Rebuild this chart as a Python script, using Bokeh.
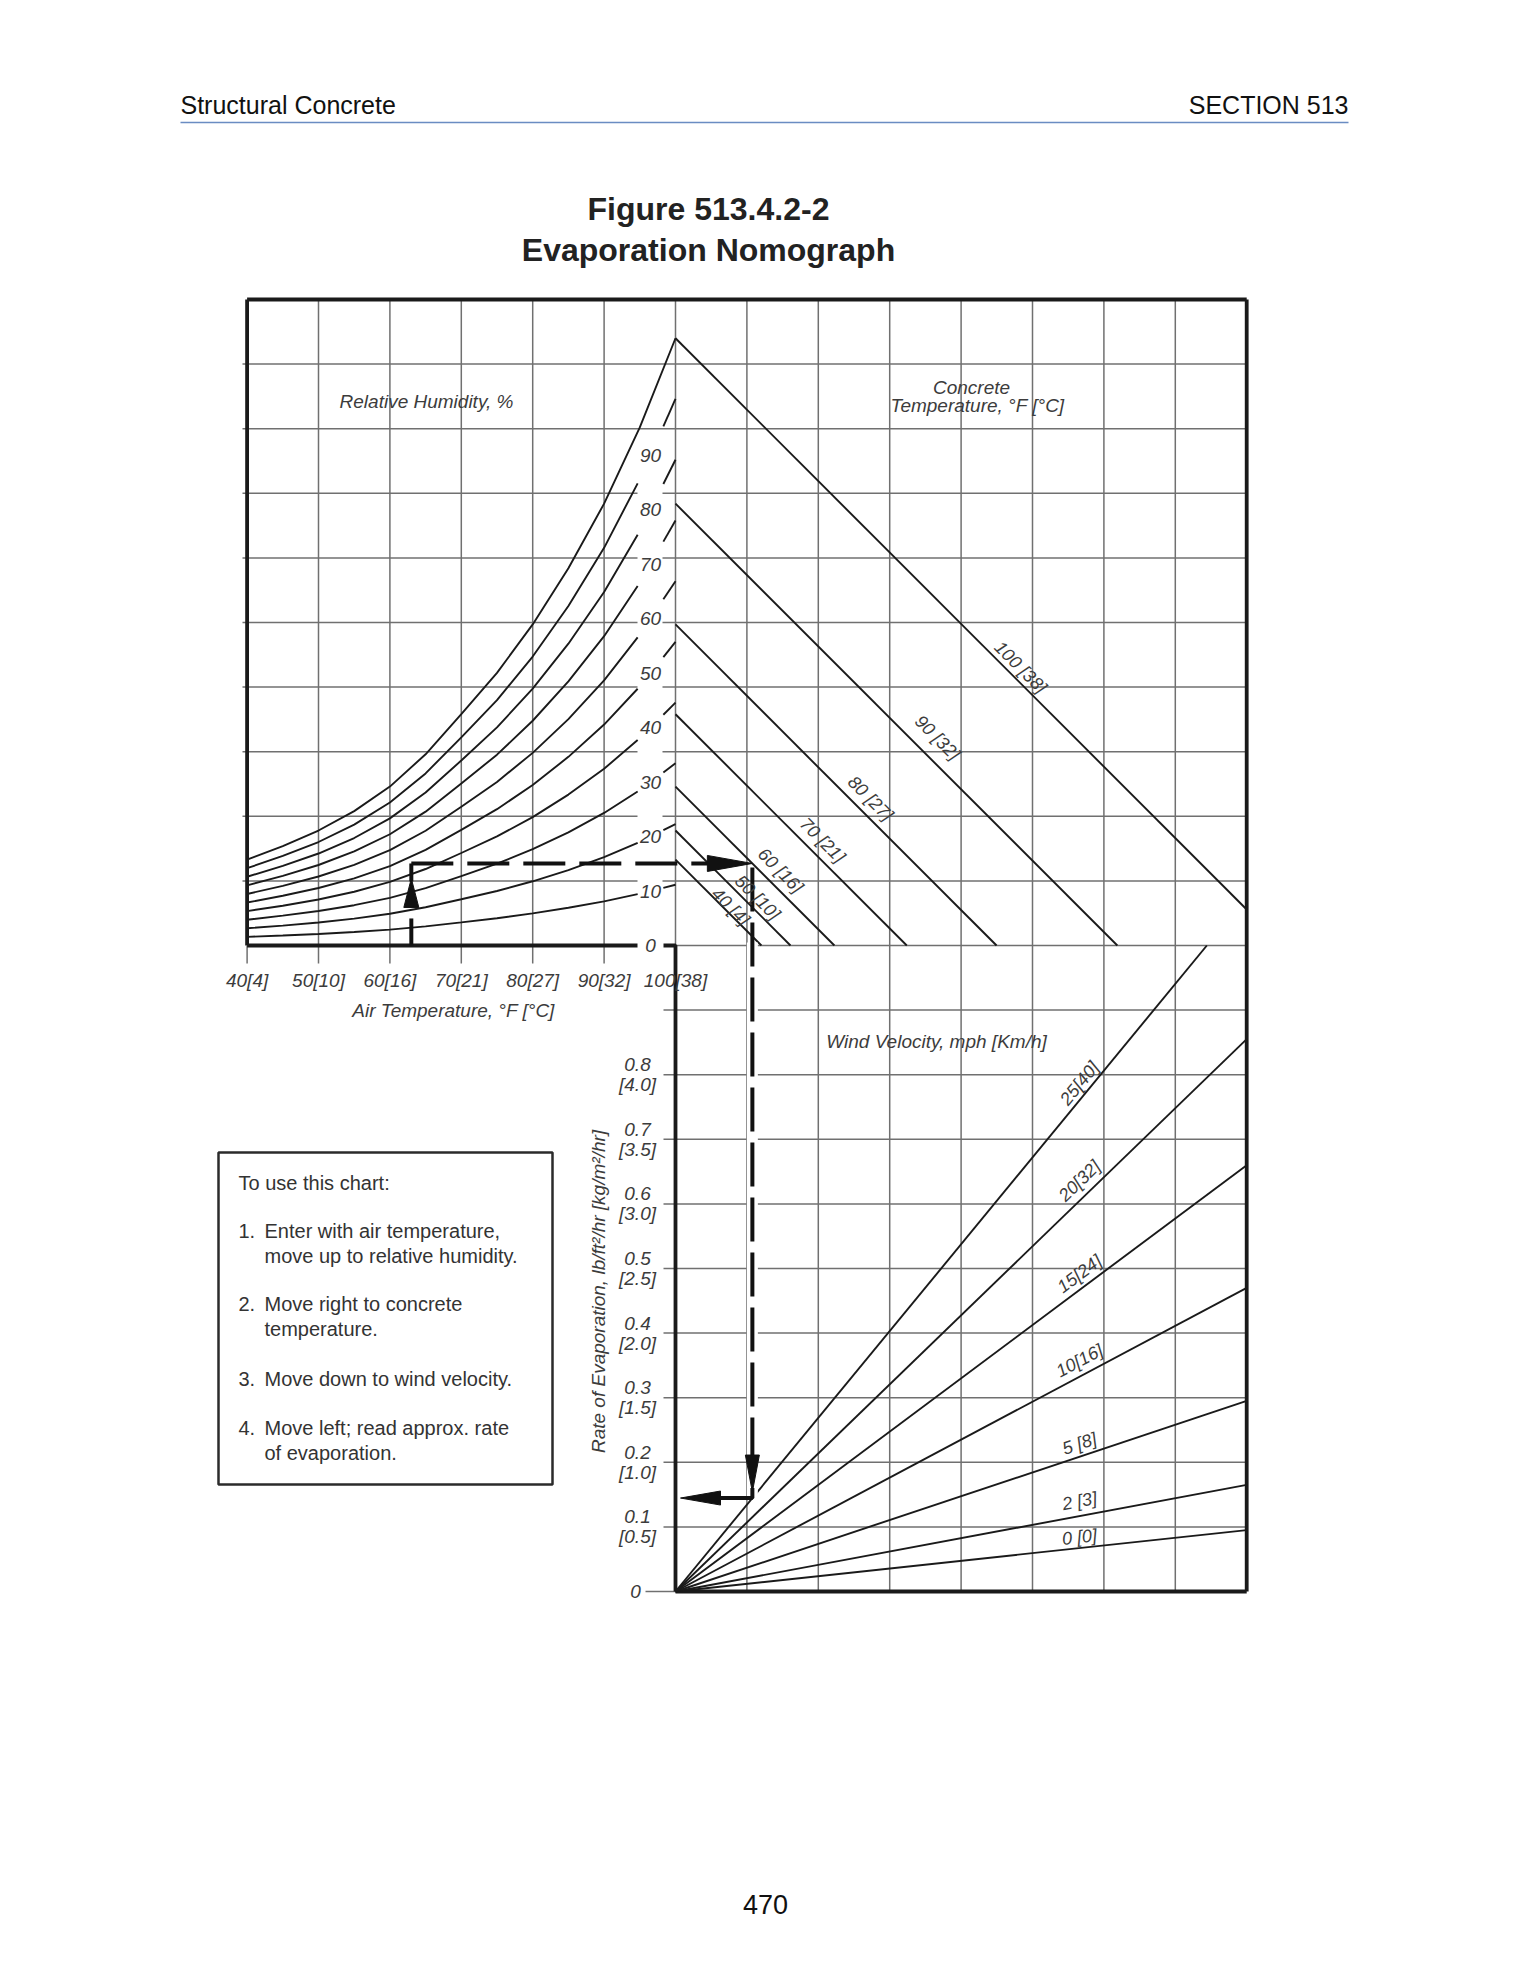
import math
import numpy as np
from bokeh.plotting import figure
from bokeh.models import Range1d
from bokeh.core.properties import value
from bokeh.embed import file_html
from bokeh.resources import INLINE

# ------------------------------------------------------------------ data
air_temp_f = [40, 45, 50, 55, 60, 65, 70, 75, 80, 85, 90, 95, 100]
# height of the saturation (100 % RH) curve, in grid rows above the 0 line
saturation_rows = [1.33, 1.54, 1.78, 2.08, 2.46, 2.96, 3.58, 4.22, 4.97, 5.84, 6.84, 8.02, 9.40]
rh_percent = [10, 20, 30, 40, 50, 60, 70, 80, 90, 100]
rh_tick_values = [0, 10, 20, 30, 40, 50, 60, 70, 80, 90]
rh_tick_labels = ["0", "10", "20", "30", "40", "50", "60", "70", "80", "90"]
air_tick_f = [40, 50, 60, 70, 80, 90, 100]
air_tick_labels = ["40[4]", "50[10]", "60[16]", "70[21]", "80[27]", "90[32]", "100[38]"]
concrete_temp_f = [40, 50, 60, 70, 80, 90, 100]
concrete_labels = ["40 [4]", "50 [10]", "60 [16]", "70 [21]", "80 [27]", "90 [32]", "100 [38]"]
wind_mph = [0, 2, 5, 10, 15, 20, 25]
wind_labels = ["0 [0]", "2 [3]", "5 [8]", "10[16]", "15[24]", "20[32]", "25[40]"]
# rate of evaporation (lb/ft2/hr) that each wind line reaches at the right frame
wind_rate_at_right_edge = [0.095, 0.165, 0.295, 0.47, 0.66, 0.855, 1.075]
rate_ticks = [0.1, 0.2, 0.3, 0.4, 0.5, 0.6, 0.7, 0.8]
rate_labels_lb = ["0.1", "0.2", "0.3", "0.4", "0.5", "0.6", "0.7", "0.8"]
rate_labels_kg = ["[0.5]", "[1.0]", "[1.5]", "[2.0]", "[2.5]", "[3.0]", "[3.5]", "[4.0]"]
example_air_temp_f = 63
example_vapor_rows = 1.27
example_concrete_f = 60
example_wind_mph = 25
instruction_lines = [
    ("", "To use this chart:"),
    ("1.", "Enter with air temperature,"),
    ("", "move up to relative humidity."),
    ("2.", "Move right to concrete"),
    ("", "temperature."),
    ("3.", "Move down to wind velocity."),
    ("4.", "Move left; read approx. rate"),
    ("", "of evaporation."),
]

# ------------------------------------------------------------------ layout
W, H = 1528, 1976
PAGE_X0, PAGE_Y0 = 0, 0
OX, OY = 675.0, 945.0          # page px of the (100 F / 0) corner
PXC, PXR = 71.4, 64.6          # px per grid column / grid row
K = PXR / PXC                  # vapour rows -> columns at equal pixel scale


def X(px):
    return (px - OX) / PXC


def Y(py):
    return (OY - py) / PXR


def dx(px):
    return px / PXC


def dy(px):
    return px / PXR


def col(t):
    return (t - 100.0) / 10.0


def clip(xs, ys, a, b):
    xs = np.asarray(xs, float)
    ys = np.asarray(ys, float)
    inner = (xs > a) & (xs < b)
    px = [a] + list(xs[inner]) + [b]
    py = [float(np.interp(a, xs, ys))] + list(ys[inner]) + [float(np.interp(b, xs, ys))]
    return px, py


FONT = value("Liberation Sans")
GRID = "#707070"
INK = "#1a1a1a"
LAB = "#3c3c3c"

p = figure(width=W, height=H,
           x_range=Range1d(X(PAGE_X0), X(PAGE_X0 + W)),
           y_range=Range1d(Y(PAGE_Y0 + H), Y(PAGE_Y0)),
           output_backend="svg", toolbar_location=None,
           x_axis_type=None, y_axis_type=None, min_border=0)
p.outline_line_color = None
p.background_fill_color = "white"
p.border_fill_color = "white"

# ------------------------------------------------------------------ grid
gx, gy = [], []
for c in range(-5, 1):
    gx.append([c, c]); gy.append([Y(963), 10])
gx.append([-6, -6]); gy.append([Y(963), 0])
for c in range(1, 8):
    gx.append([c, c]); gy.append([-10, 10])
band_l, band_r = X(637), X(662)
for r in range(1, 10):
    if r <= 7:
        gx += [[X(242), band_l], [band_r, 8]]
        gy += [[r, r], [r, r]]
    else:
        gx.append([X(242), 8]); gy.append([r, r])
gx.append([0, 8]); gy.append([0, 0])
for r in range(-9, 0):
    gx.append([X(663), 8]); gy.append([r, r])
gx.append([X(645), 0]); gy.append([-10, -10])
p.multi_line(gx, gy, line_color=GRID, line_width=1.5)

# ------------------------------------------------------------------ heavy frame
fx = [[-6, 8], [-6, -6], [8, 8], [0, 8], [X(663), 0, 0], [-6, band_l]]
fy = [[10, 10], [0, 10], [-10, 10], [-10, -10], [0, 0, -10], [0, 0]]
p.multi_line(fx, fy, line_color=INK, line_width=3.8)

# ------------------------------------------------------------------ relative humidity curves
cols = [col(t) for t in air_temp_f]
t_gap_a, t_gap_b = col(94.7), col(98.3)
cx, cy = [], []
for rh in rh_percent:
    ys = [rh / 100.0 * s for s in saturation_rows]
    if rh == 100:
        cx.append(cols); cy.append(ys)
    else:
        a, b = clip(cols, ys, cols[0], t_gap_a)
        cx.append(a); cy.append(b)
        a, b = clip(cols, ys, t_gap_b, 0.0)
        cx.append(a); cy.append(b)
p.multi_line(cx, cy, line_color=INK, line_width=1.9)

rh_lab_y = [float(np.interp(col(96.5), cols, [v / 100.0 * s for s in saturation_rows]))
            for v in rh_tick_values]
p.text(x=[X(650)] * len(rh_tick_values), y=rh_lab_y, text=rh_tick_labels,
       text_font=FONT, text_font_size="19px", text_font_style="italic",
       text_color=LAB, text_align="center", text_baseline="middle")

# ------------------------------------------------------------------ concrete temperature lines
lx, ly = [], []
conc_lab_px = [730, 757, 780, 822, 870, 937, 1020]
conc_lab_off = [8, 15, 21, 21, 21, 28, 16]
clx, cly = [], []
for t, apx, off in zip(concrete_temp_f, conc_lab_px, conc_lab_off):
    s = saturation_rows[air_temp_f.index(t)]
    xe = s * K
    if xe > 8:
        lx.append([0, 8]); ly.append([s, s - 8 / K])
    else:
        lx.append([0, xe]); ly.append([s, 0])
    xa = X(apx)
    clx.append(xa); cly.append(s - xa / K + dy(off))
p.multi_line(lx, ly, line_color=INK, line_width=1.9)

# ------------------------------------------------------------------ wind velocity lines
wx, wy = [], []
wlx, wly, wla = [], [], []
wind_lab_off = [11, 15, 13, 16, 16, 20, 17]
xl = X(1079)
for r, off in zip(wind_rate_at_right_edge, wind_lab_off):
    if r > 1.0:
        wx.append([0, 8 / r]); wy.append([-10, 0])
    else:
        wx.append([0, 8]); wy.append([-10, -10 + 10 * r])
    wlx.append(xl)
    wly.append(-10 + 10 * r * xl / 8 + dy(off))
    wla.append(math.atan(10 * r * PXR / (8 * PXC)))
p.multi_line(wx, wy, line_color=INK, line_width=1.9)
p.text(x=wlx, y=wly, text=wind_labels, angle=wla,
       text_font=FONT, text_font_size="18px", text_font_style="italic",
       text_color=LAB, text_align="center", text_baseline="middle")

# ------------------------------------------------------------------ axis labels
p.text(x=[col(t) for t in air_tick_f], y=[Y(980)] * len(air_tick_f), text=air_tick_labels,
       text_font=FONT, text_font_size="19px", text_font_style="italic",
       text_color=LAB, text_align="center", text_baseline="middle")
rt_y = [-10 + 10 * v for v in rate_ticks]
p.text(x=[X(637)] * len(rate_ticks), y=[v + dy(10) for v in rt_y], text=rate_labels_lb,
       text_font=FONT, text_font_size="19px", text_font_style="italic",
       text_color=LAB, text_align="center", text_baseline="middle")
p.text(x=[X(637)] * len(rate_ticks), y=[v - dy(10) for v in rt_y], text=rate_labels_kg,
       text_font=FONT, text_font_size="19px", text_font_style="italic",
       text_color=LAB, text_align="center", text_baseline="middle")
p.text(x=[X(635)], y=[-10], text=["0"],
       text_font=FONT, text_font_size="19px", text_font_style="italic",
       text_color=LAB, text_align="center", text_baseline="middle")

titles = [
    ("Relative Humidity, %", 426, 401, 0.0),
    ("Concrete", 971, 387, 0.0),
    ("Temperature, \u00b0F [\u00b0C]", 977, 405, 0.0),
    ("Air Temperature, \u00b0F [\u00b0C]", 453, 1010, 0.0),
    ("Wind Velocity, mph [Km/h]", 936, 1041, 0.0),
    ("Rate of Evaporation, lb/ft\u00b2/hr [kg/m\u00b2/hr]", 598, 1291, math.pi / 2),
]
for t, px, py, ang in titles:
    p.text(x=[X(px)], y=[Y(py)], text=[t], angle=ang,
           text_font=FONT, text_font_size="19px", text_font_style="italic",
           text_color=LAB, text_align="center", text_baseline="middle")

# ------------------------------------------------------------------ worked example path
xe = col(example_air_temp_f)
ye = example_vapor_rows
s_c = saturation_rows[air_temp_f.index(example_concrete_f)]
xc = (s_c - ye) * K
r_w = wind_rate_at_right_edge[wind_mph.index(example_wind_mph)]
yr = -10 + 10 * r_w * xc / 8
ARW = "#111111"
# up
p.line([xe, xe], [0, ye - dy(55)], line_color=ARW, line_width=4)
p.patch([xe - dx(7.5), xe + dx(7.5), xe], [ye - dy(44), ye - dy(44), ye - dy(15)],
        fill_color=ARW, line_color=ARW, line_width=1)
p.line([xe, xe], [ye - dy(18), ye], line_color=ARW, line_width=4)
# right
p.line([xe, xc - dx(44)], [ye, ye], line_color=ARW, line_width=4, line_dash="42 14")
p.patch([xc - dx(45), xc - dx(45), xc], [ye + dy(8), ye - dy(8), ye],
        fill_color=ARW, line_color=ARW, line_width=1)
# down
p.line([xc, xc], [dy(3), yr], line_color="white", line_width=11)
p.line([xc, xc], [ye - dy(4), yr + dy(42)], line_color=ARW, line_width=4, line_dash="44 11")
p.patch([xc - dx(7), xc + dx(7), xc], [yr + dy(43), yr + dy(43), yr + dy(6)],
        fill_color=ARW, line_color=ARW, line_width=1)
# left
p.line([xc, xc, dx(44)], [yr + dy(10), yr, yr], line_color=ARW, line_width=4)
p.patch([dx(45), dx(45), dx(5)], [yr + dy(7), yr - dy(7), yr],
        fill_color=ARW, line_color=ARW, line_width=1)

# concrete labels drawn on top of the example path
p.text(x=clx, y=cly, text=concrete_labels, angle=-math.pi / 4,
       text_font=FONT, text_font_size="18px", text_font_style="italic",
       text_color=LAB, text_align="center", text_baseline="middle")

# ------------------------------------------------------------------ instruction box
p.quad(left=[X(218)], right=[X(552)], top=[Y(1152)], bottom=[Y(1484)],
       fill_color="white", line_color="#2b2b2b", line_width=2.5)
iy = [1182, 1230, 1255, 1303, 1328, 1378, 1427, 1452]
for (num, txt), py in zip(instruction_lines, iy):
    if num:
        p.text(x=[X(238)], y=[Y(py)], text=[num], text_font=FONT, text_font_size="20px",
               text_color="#333333", text_align="left", text_baseline="middle")
        p.text(x=[X(264)], y=[Y(py)], text=[txt], text_font=FONT, text_font_size="20px",
               text_color="#333333", text_align="left", text_baseline="middle")
    else:
        x0 = 238 if py == 1182 else 264
        p.text(x=[X(x0)], y=[Y(py)], text=[txt], text_font=FONT, text_font_size="20px",
               text_color="#333333", text_align="left", text_baseline="middle")

# ------------------------------------------------------------------ page header / title / footer
p.text(x=[X(180)], y=[Y(104)], text=["Structural Concrete"], text_font=FONT,
       text_font_size="25px", text_color="#111111", text_align="left", text_baseline="middle")
p.text(x=[X(1348)], y=[Y(104)], text=["SECTION 513"], text_font=FONT,
       text_font_size="25px", text_color="#111111", text_align="right", text_baseline="middle")
p.line([X(180), X(1348)], [Y(122), Y(122)], line_color="#6a8cc2", line_width=1.5)
p.text(x=[X(708), X(708)], y=[Y(208), Y(249)],
       text=["Figure 513.4.2-2", "Evaporation Nomograph"], text_font=FONT,
       text_font_size="32px", text_font_style="bold", text_color="#222222",
       text_align="center", text_baseline="middle")
p.text(x=[X(765)], y=[Y(1904)], text=["470"], text_font=FONT, text_font_size="27px",
       text_color="#111111", text_align="center", text_baseline="middle")

open("out.html", "w").write(file_html(p, INLINE))
